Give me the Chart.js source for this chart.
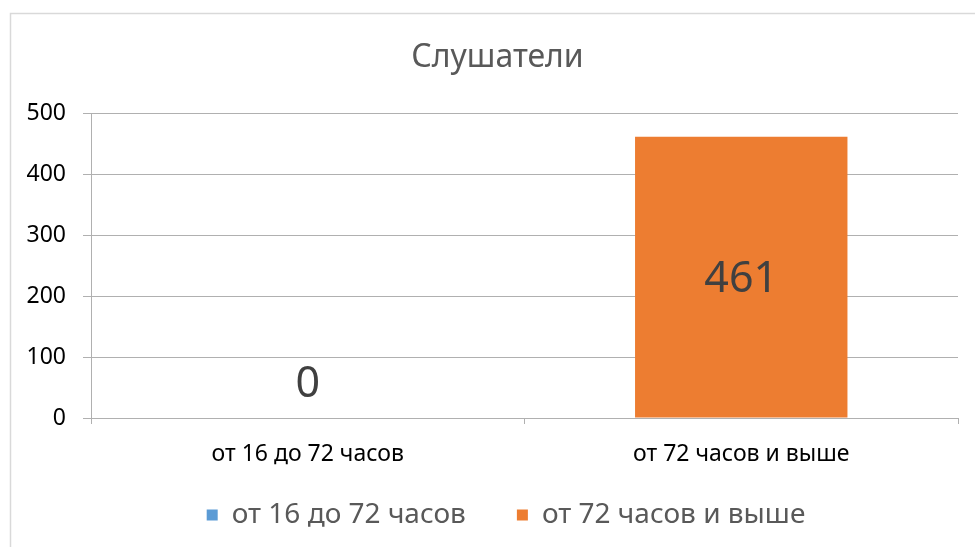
<!DOCTYPE html>
<html>
<head>
<meta charset="utf-8">
<script src="https://cdn.jsdelivr.net/npm/chart.js@4"></script>
<style>
  html, body { margin: 0; padding: 0; background: #ffffff; }
  #wrap { width: 975px; height: 547px; position: relative; }
</style>
</head>
<body>
<div id="wrap"><canvas id="c" width="975" height="547"></canvas></div>
<script>
const titleText = "Слушатели";
const categories = ["от 16 до 72 часов", "от 72 часов и выше"];
const seriesNames = ["от 16 до 72 часов", "от 72 часов и выше"];
const seriesA = [0, null];
const seriesB = [null, 461];
const yTicks = [0, 100, 200, 300, 400, 500];

const FONT = "'Noto Sans', 'DejaVu Sans', sans-serif";
const GRID = '#b0b0b0';
const LEGEND_PAD = 51;
const LEGEND_SIZE = 28;

const frame = {
  id: 'frame',
  beforeDraw(chart) {
    const ctx = chart.ctx;
    ctx.save();
    ctx.fillStyle = '#ffffff';
    ctx.fillRect(0, 0, chart.width, chart.height);
    ctx.strokeStyle = '#d9d9d9';
    ctx.lineWidth = 1.5;
    ctx.strokeRect(10.5, 13.5, 1200, 1200);
    ctx.restore();
  }
};

const placeBlocks = {
  id: 'placeBlocks',
  afterLayout(chart) {
    const lg = chart.legend;
    if (lg) {
      const h = lg.height;
      lg.left = 54; lg.right = 958; lg.width = lg.right - lg.left;
      lg.top = 515 - LEGEND_PAD - LEGEND_SIZE / 2; lg.bottom = lg.top + h;
    }
    const t = chart.titleBlock;
    if (t) { t.left = 37; t.right = 958; t.width = t.right - t.left; }
  }
};

const valueLabels = {
  id: 'valueLabels',
  afterDatasetsDraw(chart) {
    const ctx = chart.ctx;
    ctx.save();
    ctx.font = "43px " + FONT;
    ctx.fillStyle = '#404040';
    ctx.textAlign = 'center';
    ctx.textBaseline = 'middle';
    chart.data.datasets.forEach((ds, di) => {
      const meta = chart.getDatasetMeta(di);
      meta.data.forEach((bar, i) => {
        const v = ds.data[i];
        if (v === null || v === undefined) return;
        const props = bar.getProps(['x', 'y', 'base'], true);
        let y = (props.y + props.base) / 2 + 3;
        if (Math.abs(props.base - props.y) < 40) y = props.base - 33;
        ctx.fillText(String(v), props.x, y);
      });
    });
    ctx.restore();
  }
};

new Chart(document.getElementById('c'), {
  type: 'bar',
  data: {
    labels: categories,
    datasets: [
      { label: seriesNames[0], data: seriesA, backgroundColor: '#5b9bd5', borderWidth: 0 },
      { label: seriesNames[1], data: seriesB, backgroundColor: '#ed7d31', borderWidth: 0 }
    ]
  },
  options: {
    responsive: false,
    animation: false,
    devicePixelRatio: 1,
    categoryPercentage: 0.49,
    barPercentage: 1,
    layout: { padding: { left: 0, right: 17, top: 0, bottom: -15 } },
    plugins: {
      tooltip: { enabled: false },
      title: {
        display: true,
        text: titleText,
        color: '#595959',
        font: { family: FONT, size: 32, weight: 'normal', lineHeight: 1.2 },
        padding: { top: 39, bottom: 35.6 }
      },
      legend: {
        position: 'bottom',
        labels: {
          color: '#595959',
          font: { family: FONT, size: LEGEND_SIZE },
          boxWidth: 11,
          boxHeight: 11,
          padding: LEGEND_PAD
        }
      }
    },
    scales: {
      x: {
        stacked: true,
        grid: { offset: true, drawOnChartArea: false, drawTicks: true, tickLength: 6, color: GRID },
        border: { display: true, color: GRID },
        ticks: { color: '#000000', font: { family: FONT, size: 23 }, padding: 17, maxRotation: 0 },
        afterFit(scale) { scale.height = 55; }
      },
      y: {
        stacked: true,
        min: 0,
        max: 500,
        afterBuildTicks(scale) { scale.ticks = yTicks.map(v => ({ value: v })); },
        grid: { color: GRID, tickLength: 8, drawTicks: true },
        border: { display: true, color: GRID },
        ticks: { color: '#000000', font: { family: FONT, size: 23 }, padding: 17 },
        afterFit(scale) { scale.width = 91; }
      }
    }
  },
  plugins: [frame, placeBlocks, valueLabels]
});
</script>
</body>
</html>
